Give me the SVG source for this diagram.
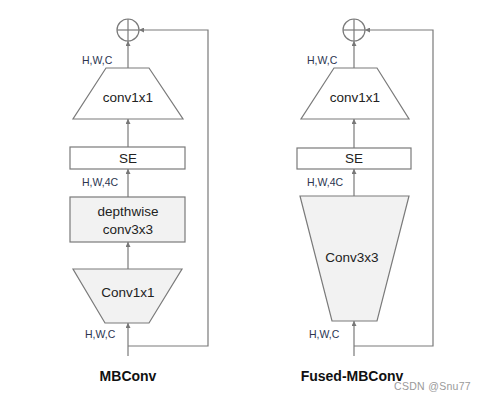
<svg xmlns="http://www.w3.org/2000/svg" width="481" height="400" viewBox="0 0 481 400">
<defs>
<marker id="ah" viewBox="0 0 10 10" refX="10" refY="5" markerWidth="5" markerHeight="5" orient="auto" markerUnits="userSpaceOnUse">
<path d="M0,0 L10,5 L0,10 Z" fill="#777"/>
</marker>
</defs>
<style>
.ln{fill:none;stroke:#7a7a7a;stroke-width:1.2}
.shw{fill:#fff;stroke:#7a7a7a;stroke-width:1.2}
.shg{fill:#f2f2f2;stroke:#7a7a7a;stroke-width:1.2}
.t{font-family:"Liberation Sans",Arial,sans-serif;font-size:13.5px;fill:#222;text-anchor:middle}
.s{font-family:"Liberation Sans",Arial,sans-serif;font-size:10.5px;fill:#2b3550}
.b{font-family:"Liberation Sans",Arial,sans-serif;font-size:14px;font-weight:bold;fill:#111;text-anchor:middle}
.w{font-family:"Liberation Sans",Arial,sans-serif;font-size:10.5px;fill:#9a9a9a;letter-spacing:0.3px}
</style>
<rect width="481" height="400" fill="#fff"/>
<g id="connectors">
<line class="ln" x1="128" y1="356" x2="128" y2="323" marker-end="url(#ah)"/>
<line class="ln" x1="128" y1="269" x2="128" y2="242" marker-end="url(#ah)"/>
<line class="ln" x1="128" y1="197" x2="128" y2="169" marker-end="url(#ah)"/>
<line class="ln" x1="128" y1="147" x2="128" y2="119" marker-end="url(#ah)"/>
<line class="ln" x1="128" y1="68" x2="128" y2="41" marker-end="url(#ah)"/>
<polyline class="ln" points="128,346 208,346 208,30 139,30" marker-end="url(#ah)"/>
<line class="ln" x1="354" y1="356" x2="354" y2="321" marker-end="url(#ah)"/>
<line class="ln" x1="354" y1="196" x2="354" y2="169" marker-end="url(#ah)"/>
<line class="ln" x1="354" y1="148" x2="354" y2="119" marker-end="url(#ah)"/>
<line class="ln" x1="354" y1="68" x2="354" y2="41" marker-end="url(#ah)"/>
<polyline class="ln" points="354,346 433,346 433,30 365,30" marker-end="url(#ah)"/>
</g>
<g id="add1">
<circle class="shw" cx="128" cy="30" r="11"/>
<line class="ln" x1="117" y1="30" x2="139" y2="30"/>
<line class="ln" x1="128" y1="19" x2="128" y2="41"/>
</g>
<g id="conv1x1_top1">
<polygon class="shw" points="106,68 149,68 183,119 73,119"/>
<text class="t" x="128" y="102">conv1x1</text>
</g>
<g id="se1">
<rect class="shw" x="70" y="147" width="115" height="22"/>
<text class="t" x="128" y="163">SE</text>
</g>
<g id="dw1">
<rect class="shg" x="70" y="197" width="115" height="45"/>
<text class="t" x="128" y="216">depthwise</text>
<text class="t" x="128" y="234">conv3x3</text>
</g>
<g id="conv1x1_bot1">
<polygon class="shg" points="73,269 182,269 149,323 105,323"/>
<text class="t" x="128" y="297">Conv1x1</text>
</g>
<g id="labels1">
<text class="s" x="82" y="64">H,W,C</text>
<text class="s" x="82" y="186">H,W,4C</text>
<text class="s" x="85" y="338">H,W,C</text>
<text class="b" x="128" y="381">MBConv</text>
</g>
<g id="add2">
<circle class="shw" cx="354" cy="30" r="11"/>
<line class="ln" x1="343" y1="30" x2="365" y2="30"/>
<line class="ln" x1="354" y1="19" x2="354" y2="41"/>
</g>
<g id="conv1x1_top2">
<polygon class="shw" points="334,68 377,68 409,119 301,119"/>
<text class="t" x="355" y="102">conv1x1</text>
</g>
<g id="se2">
<rect class="shw" x="297" y="148" width="114" height="21"/>
<text class="t" x="354" y="163">SE</text>
</g>
<g id="conv3x3_2">
<polygon class="shg" points="300,196 409,196 377,321 332,321"/>
<text class="t" x="352" y="262">Conv3x3</text>
</g>
<g id="labels2">
<text class="s" x="307" y="64">H,W,C</text>
<text class="s" x="307" y="186">H,W,4C</text>
<text class="s" x="309" y="338">H,W,C</text>
<text class="b" x="352" y="381">Fused-MBConv</text>
<text class="w" x="394" y="390">CSDN @Snu77</text>
</g>
</svg>
